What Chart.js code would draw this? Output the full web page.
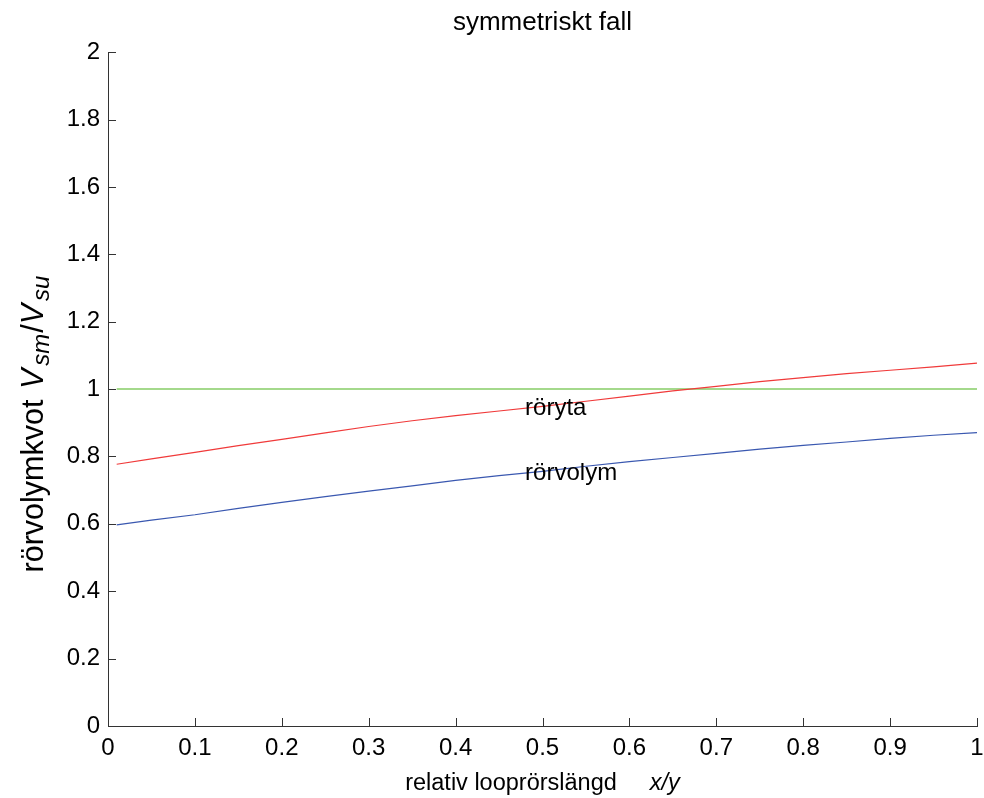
<!DOCTYPE html>
<html><head><meta charset="utf-8">
<style>html,body{margin:0;padding:0;background:#fff}#wrap{width:984px;height:798px;position:relative}</style>
<script src="https://cdn.jsdelivr.net/npm/chart.js@4/dist/chart.umd.min.js"></script>
</head><body><div id="wrap"><canvas id="c" width="984" height="798"></canvas></div>
<script>
const xValues        = [0.01,0.05,0.1,0.15,0.2,0.25,0.3,0.35,0.4,0.45,0.5,0.55,0.6,0.65,0.7,0.75,0.8,0.85,0.9,0.95,1.0];
const rorytaValues   = [0.777,0.793,0.812,0.832,0.851,0.870,0.889,0.906,0.921,0.935,0.949,0.964,0.979,0.995,1.008,1.022,1.034,1.046,1.056,1.066,1.077];
const rorvolymValues = [0.597,0.611,0.627,0.646,0.664,0.681,0.697,0.713,0.729,0.743,0.756,0.771,0.785,0.797,0.809,0.822,0.833,0.843,0.854,0.863,0.871];
const referenceValues= [1,1,1,1,1,1,1,1,1,1,1,1,1,1,1,1,1,1,1,1,1];
const xTickValues = [0,0.1,0.2,0.3,0.4,0.5,0.6,0.7,0.8,0.9,1];
const yTickValues = [0,0.2,0.4,0.6,0.8,1,1.2,1.4,1.6,1.8,2];
const titleText = 'symmetriskt fall';
const seriesLabels = ['röryta','rörvolym'];

const FONT = "Arial, 'Liberation Sans', sans-serif";
const pts = (ys) => xValues.map((x,i)=>({x:x,y:ys[i]}));
const fmt = v => String(Number(v.toFixed(1)));

const overlay = {
  id:'overlay',
  afterDraw(chart){
    const ctx = chart.ctx, xs = chart.scales.x, ys = chart.scales.y, a = chart.chartArea;
    ctx.save();
    // inward ticks
    ctx.strokeStyle = '#333'; ctx.lineWidth = 1;
    ctx.beginPath();
    yTickValues.forEach(v=>{ const p = Math.round(ys.getPixelForValue(v))+0.5; ctx.moveTo(a.left, p); ctx.lineTo(a.left+8, p); });
    xTickValues.forEach(v=>{ const p = Math.round(xs.getPixelForValue(v))+0.5; ctx.moveTo(p, a.bottom); ctx.lineTo(p, a.bottom-8); });
    ctx.stroke();
    // annotations
    ctx.fillStyle = '#000';
    ctx.font = '24px ' + FONT;
    ctx.textAlign = 'left'; ctx.textBaseline = 'alphabetic';
    ctx.fillText(seriesLabels[0], xs.getPixelForValue(0.48), ys.getPixelForValue(0.923));
    ctx.fillText(seriesLabels[1], xs.getPixelForValue(0.48), ys.getPixelForValue(0.73));
    // x axis label
    const segX = [['relativ looprörslängd','23.5px '+FONT,33],['x/y','italic 23.5px '+FONT,0]];
    let tw = 0; segX.forEach(s=>{ctx.font=s[1]; tw += ctx.measureText(s[0]).width + s[2];});
    let cx = (a.left+a.right)/2 - tw/2;
    segX.forEach(s=>{ctx.font=s[1]; ctx.fillText(s[0], cx, 790); cx += ctx.measureText(s[0]).width + s[2];});
    // y axis label
    const segY = [['rörvolymkvot ','30.5px '+FONT,0,2],['V','italic 30.5px '+FONT,0,3],['sm','italic 24px '+FONT,6,1],['/','30.5px '+FONT,0,0],['V','italic 30.5px '+FONT,0,3],['su','italic 24px '+FONT,6,0]];
    tw = 0; segY.forEach(s=>{ctx.font=s[1]; tw += ctx.measureText(s[0]).width + s[3];});
    ctx.translate(43, 424); ctx.rotate(-Math.PI/2);
    let px = -tw/2;
    segY.forEach(s=>{ctx.font=s[1]; ctx.fillText(s[0], px, s[2]); px += ctx.measureText(s[0]).width + s[3];});
    ctx.restore();
  }
};

new Chart(document.getElementById('c'), {
  type:'line',
  data:{ datasets:[
    {label:seriesLabels[0], data:pts(rorytaValues), borderColor:'#f03a3a', borderWidth:1.2, pointRadius:0, tension:0, fill:false},
    {label:seriesLabels[1], data:pts(rorvolymValues), borderColor:'#3a58b0', borderWidth:1.2, pointRadius:0, tension:0, fill:false},
    {label:'1', data:pts(referenceValues), borderColor:'#86cc66', borderWidth:1.5, pointRadius:0, tension:0, fill:false}
  ]},
  options:{
    responsive:false, animation:false, devicePixelRatio:1,
    layout:{padding:{left:0,right:7,top:0,bottom:0}},
    plugins:{
      legend:{display:false}, tooltip:{enabled:false},
      title:{display:true, fullSize:false, text:titleText, color:'#000', font:{family:FONT,size:26,weight:'normal'}, padding:{top:7,bottom:14}}
    },
    scales:{
      x:{type:'linear', min:0, max:1,
        afterBuildTicks: s => { s.ticks = xTickValues.map(v=>({value:v})); },
        ticks:{color:'#000', font:{family:FONT,size:24}, padding:8, maxRotation:0, callback:v=>fmt(v)},
        grid:{drawOnChartArea:false, drawTicks:false},
        border:{display:true,color:'#333',width:1},
        afterFit: s => { s.height = 72; s.paddingRight = 0; s.paddingLeft = 0; }
      },
      y:{type:'linear', min:0, max:2,
        afterBuildTicks: s => { s.ticks = yTickValues.map(v=>({value:v})); },
        ticks:{color:'#000', font:{family:FONT,size:24}, padding:8, callback:v=>fmt(v)},
        grid:{drawOnChartArea:false, drawTicks:false},
        border:{display:true,color:'#333',width:1},
        afterFit: s => { s.width = 108; s.paddingTop = 0; s.paddingBottom = 0; }
      }
    }
  },
  plugins:[overlay]
});
</script></body></html>
